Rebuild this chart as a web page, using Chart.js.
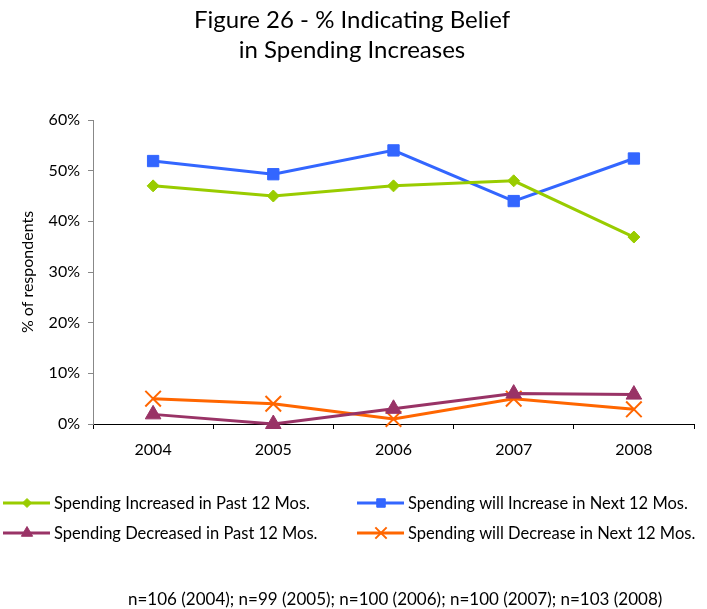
<!DOCTYPE html>
<html>
<head>
<meta charset="utf-8">
<title>Figure 26</title>
<script src="https://cdn.jsdelivr.net/npm/chart.js@4.4.1/dist/chart.umd.min.js"></script>
<style>
  html, body { margin: 0; padding: 0; background: #fff; }
  #wrap { position: relative; width: 707px; height: 609px; }
</style>
</head>
<body>
<div id="wrap"><canvas id="beliefChart" width="707" height="609"></canvas></div>
<script>
// 年份与四条序列（单位：%）
const years = ['2004', '2005', '2006', '2007', '2008'];
const increasedPast = [47, 45, 47, 48, 36.9];
const willIncreaseNext = [51.9, 49.3, 54, 44, 52.4];
const decreasedPast = [1.9, 0, 3, 6, 5.8];
const willDecreaseNext = [5, 4, 1, 5, 2.9];
const yTicks = [0, 10, 20, 30, 40, 50, 60];

const titleLines = ['Figure 26 - % Indicating Belief', 'in Spending Increases'];
const footNote = 'n=106 (2004); n=99 (2005); n=100 (2006); n=100 (2007); n=103 (2008)';
const FONT = 'Lato, "Open Sans", sans-serif';

const series = [
    { label: 'Spending Increased in Past 12 Mos.', data: increasedPast, color: '#99CC00', style: 'rectRot', r: 6, lr: 4.5 },
    { label: 'Spending will Increase in Next 12 Mos.', data: willIncreaseNext, color: '#3366FF', style: 'rect', r: 8, lr: 6 },
    { label: 'Spending Decreased in Past 12 Mos.', data: decreasedPast, color: '#993366', style: 'triangle', r: 9, lr: 6.5 },
    { label: 'Spending will Decrease in Next 12 Mos.', data: willDecreaseNext, color: '#FF6600', style: 'crossRot', r: 11, lr: 8 }
];

// 标题、图例、脚注都画在画布上
const decorPlugin = {
    id: 'decor',
    afterDraw(chart) {
        const ctx = chart.ctx;
        ctx.save();
        ctx.fillStyle = '#000';
        ctx.textAlign = 'center';
        ctx.textBaseline = 'alphabetic';
        ctx.font = '24px ' + FONT;
        ctx.fillText(titleLines[0], 352, 28);
        ctx.fillText(titleLines[1], 352, 58);

        // 图例：两列两行
        const slots = [[3, 503], [357, 503], [3, 533], [357, 533]];
        ctx.font = '16.5px ' + FONT;
        ctx.textAlign = 'left';
        ctx.textBaseline = 'middle';
        chart.data.datasets.forEach((ds, i) => {
            const [x, y] = slots[i];
            ctx.strokeStyle = ds.borderColor;
            ctx.lineWidth = 3;
            ctx.beginPath();
            ctx.moveTo(x, y);
            ctx.lineTo(x + 47, y);
            ctx.stroke();
            ctx.fillStyle = ds.borderColor;
            ctx.lineWidth = ds.pointStyle === 'crossRot' ? 2 : 1;
            Chart.helpers.drawPoint(ctx, { pointStyle: ds.pointStyle, radius: series[i].lr, rotation: 0, borderWidth: ctx.lineWidth }, x + 24, y);
            ctx.fillStyle = '#000';
            ctx.fillText(ds.label, x + 51, y + 1);
        });

        ctx.font = '17px ' + FONT;
        ctx.fillText(footNote, 128, 600);
        ctx.restore();
    }
};

const ctx = document.getElementById('beliefChart').getContext('2d');
new Chart(ctx, {
    type: 'line',
    data: {
        labels: years,
        datasets: series.map(s => ({
            label: s.label,
            data: s.data,
            borderColor: s.color,
            backgroundColor: s.color,
            borderWidth: 3,
            pointStyle: s.style,
            pointRadius: s.r,
            pointBorderWidth: s.style === 'crossRot' ? 2 : 1,
            tension: 0,
            fill: false,
            clip: false
        }))
    },
    options: {
        responsive: false,
        animation: false,
        layout: { padding: { top: 120, right: 9, bottom: 145, left: 0 } },
        plugins: {
            legend: { display: false },
            title: { display: false },
            tooltip: { enabled: false }
        },
        scales: {
            x: {
                offset: true,
                afterFit: s => { s.height = 40; },
                grid: { offset: true, drawOnChartArea: false, drawTicks: true, tickLength: 5, color: '#000' },
                border: { color: '#000', width: 1 },
                ticks: { color: '#000', font: { family: FONT, size: 16 }, padding: 11 }
            },
            y: {
                min: 0,
                max: 60,
                afterFit: s => { s.width = 93; },
                afterBuildTicks: s => { s.ticks = yTicks.map(v => ({ value: v })); },
                grid: { drawOnChartArea: false, drawTicks: true, tickLength: 5, color: '#888' },
                border: { color: '#888', width: 1 },
                ticks: {
                    color: '#000',
                    font: { family: FONT, size: 16 },
                    padding: 8,
                    callback: v => v + '%'
                },
                title: {
                    display: true,
                    text: '% of respondents',
                    color: '#000',
                    font: { family: FONT, size: 16 },
                    padding: { top: 18, bottom: 0 }
                }
            }
        }
    },
    plugins: [decorPlugin]
});
</script>
</body>
</html>
